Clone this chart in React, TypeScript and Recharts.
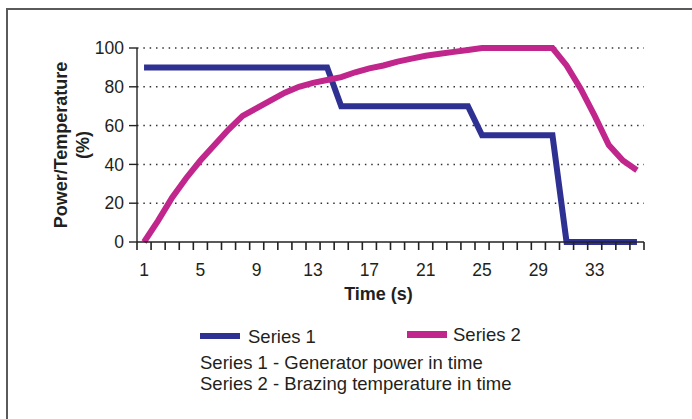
import { LineChart, Line, XAxis, YAxis, CartesianGrid } from 'recharts';

const times = [1, 2, 3, 4, 5, 6, 7, 8, 9, 10, 11, 12, 13, 14, 15, 16, 17, 18, 19, 20, 21, 22, 23, 24, 25, 26, 27, 28, 29, 30, 31, 32, 33, 34, 35, 36];
const generatorPower = [90, 90, 90, 90, 90, 90, 90, 90, 90, 90, 90, 90, 90, 90, 70, 70, 70, 70, 70, 70, 70, 70, 70, 70, 55, 55, 55, 55, 55, 55, 0, 0, 0, 0, 0, 0];
const brazingTemp = [0, 11, 23, 33, 42, 50, 58, 65, 69, 73, 77, 80, 82, 83.5, 85, 87.5, 89.5, 91, 93, 94.5, 96, 97, 98, 99, 100, 100, 100, 100, 100, 100, 91, 79, 65, 50, 42, 37];
const xLabelTicks = [1, 5, 9, 13, 17, 21, 25, 29, 33];
const yTicks = [0, 20, 40, 60, 80, 100];

const BLUE = '#2E3192';
const MAGENTA = '#C0268B';
const INK = '#231F20';
const AXIS = '#222';
const FONT = '"Liberation Sans", Arial, sans-serif';
const X_TICK = 8;
const X_MARGIN = 14;

const data = times.map((t, i) => ({ t, s1: generatorPower[i], s2: brazingTemp[i] }));
// tick marks sit between points (Excel category axis), labels sit on the points
const boundaries = [...times.map((t) => t - 0.5), times[times.length - 1] + 0.5];
const domain = [boundaries[0], boundaries[boundaries.length - 1]];

// boundary tick mark, plus the time label half a band to the right where one is shown
function TimeTick({ x, y, payload, width }: any) {
  const t = payload.value + 0.5;
  const half = (width || 507) / times.length / 2;
  const top = y - X_MARGIN - X_TICK;
  return (
    <g>
      <line x1={x} x2={x} y1={top} y2={top + X_TICK} stroke={AXIS} strokeWidth={1.6} />
      {xLabelTicks.includes(t) && (
        <text x={x + half} y={y} dy="0.71em" textAnchor="middle" fontFamily={FONT} fontSize={17.5} fill={INK}>
          {t}
        </text>
      )}
    </g>
  );
}

function YTitle({ viewBox }: any) {
  const cy = viewBox.y + viewBox.height / 2;
  const x1 = 67;
  const x2 = 89;
  return (
    <g fontFamily={FONT} fontWeight="bold" fontSize={18} fill={INK}>
      <text x={x1} y={cy} textAnchor="middle" transform={`rotate(-90 ${x1} ${cy})`}>
        Power/Temperature
      </text>
      <text x={x2} y={cy} textAnchor="middle" transform={`rotate(-90 ${x2} ${cy})`}>
        (%)
      </text>
    </g>
  );
}

function XTitle({ viewBox }: any) {
  const cx = viewBox.x + viewBox.width / 2 - 12;
  return (
    <text x={cx} y={viewBox.y + 58} textAnchor="middle" fontFamily={FONT} fontWeight="bold" fontSize={18} fill={INK}>
      Time (s)
    </text>
  );
}

export default function App() {
  const textStyle = { position: 'absolute' as const, fontFamily: FONT, fontSize: 18.5, color: INK, lineHeight: '20px', whiteSpace: 'nowrap' as const };
  return (
    <div style={{ position: 'fixed', left: 0, top: 0, width: 692, height: 419, background: '#fff', overflow: 'hidden' }}>
      <div style={{ position: 'absolute', left: 6, top: 8, width: 720, height: 440, borderLeft: '2px solid #5a5a5a', borderTop: '2px solid #5a5a5a' }} />
      <div style={{ position: 'absolute', left: 0, top: 0 }}>
        <LineChart width={692} height={419} data={data} margin={{ top: 48, right: 48, bottom: 105, left: 92 }}>
          <CartesianGrid xAxisId="frame" vertical={false} stroke="#333" strokeWidth={1.5} strokeDasharray="1.5 4.83" horizontalValues={yTicks.slice(1)} />
          <XAxis
            xAxisId="frame"
            dataKey="t"
            type="number"
            domain={domain}
            ticks={boundaries}
            interval={0}
            tick={TimeTick}
            tickSize={X_TICK}
            tickMargin={X_MARGIN}
            height={72}
            axisLine={{ stroke: AXIS, strokeWidth: 1.4 }}
            tickLine={false}
            label={{ content: XTitle }}
          />
          <YAxis
            domain={[0, 100]}
            ticks={yTicks}
            interval={0}
            width={45}
            tickSize={8}
            tickMargin={5}
            axisLine={{ stroke: AXIS, strokeWidth: 1.4 }}
            tickLine={{ stroke: AXIS, strokeWidth: 1.4 }}
            tick={{ fontSize: 17.5, fill: INK, fontFamily: FONT }}
            label={{ content: YTitle }}
          />
          <Line xAxisId="frame" dataKey="s1" stroke={BLUE} strokeWidth={6} dot={false} type="linear" isAnimationActive={false} />
          <Line xAxisId="frame" dataKey="s2" stroke={MAGENTA} strokeWidth={6} dot={false} type="linear" isAnimationActive={false} />
        </LineChart>
      </div>
      <div style={{ position: 'absolute', left: 200, top: 333, width: 40, height: 6, background: BLUE }} />
      <div style={{ ...textStyle, left: 248, top: 327 }}>Series 1</div>
      <div style={{ position: 'absolute', left: 407, top: 331, width: 40, height: 6.5, background: MAGENTA }} />
      <div style={{ ...textStyle, left: 453, top: 325 }}>Series 2</div>
      <div style={{ ...textStyle, left: 200, top: 353 }}>Series 1 - Generator power in time</div>
      <div style={{ ...textStyle, left: 200, top: 374 }}>Series 2 - Brazing temperature in time</div>
    </div>
  );
}
